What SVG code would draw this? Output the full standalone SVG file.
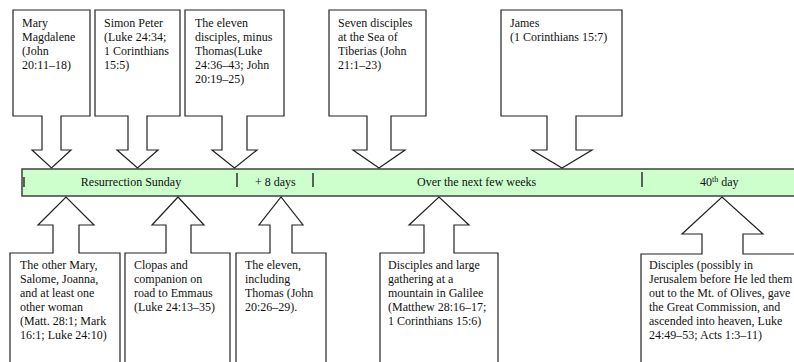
<svg xmlns="http://www.w3.org/2000/svg" width="794" height="362" viewBox="0 0 794 362">
<style>
.co{fill:#fff;stroke:#222;stroke-width:1.2;stroke-linejoin:miter}
.t{font-family:"Liberation Serif","Times New Roman",serif;font-size:12px;fill:#111}
.sep{stroke:#222;stroke-width:1.4}
</style>
<rect width="794" height="362" fill="#fff"/>
<g id="timeline">
<rect x="22" y="169" width="780" height="27" fill="#ccffcc" stroke="#404040" stroke-width="1.5"/>
<line class="sep" x1="24" y1="177" x2="24" y2="187"/>
<line class="sep" x1="237" y1="173" x2="237" y2="187"/>
<line class="sep" x1="313" y1="173" x2="313" y2="187"/>
<line class="sep" x1="642" y1="172" x2="642" y2="187"/>
<text class="t" x="131" y="186" text-anchor="middle">Resurrection Sunday</text>
<text class="t" x="255" y="186">+ 8 days</text>
<text class="t" x="417" y="186">Over the next few weeks</text>
<text class="t" x="700" y="186">40<tspan font-size="8" dy="-4">th</tspan><tspan dy="4"> day</tspan></text>
</g>
<g id="connectors"></g>
<g id="n-mary-magdalene">
<path class="co" d="M13,10 H90 V116 H61 V150 H71 L51.5,168 L32,150 H42 V116 H13 Z"/>
<text class="t" x="22" y="27">Mary</text>
<text class="t" x="22" y="41">Magdalene</text>
<text class="t" x="22" y="55">(John</text>
<text class="t" x="22" y="69">20:11–18)</text>
</g>
<g id="n-simon-peter">
<path class="co" d="M95,10 H180 V116 H147 V150 H158 L137.5,168 L117,150 H128 V116 H95 Z"/>
<text class="t" x="104" y="27">Simon Peter</text>
<text class="t" x="104" y="41">(Luke 24:34;</text>
<text class="t" x="104" y="55">1 Corinthians</text>
<text class="t" x="104" y="69">15:5)</text>
</g>
<g id="n-eleven-minus-thomas">
<path class="co" d="M185,10 H284 V116 H247 V150 H257 L234.5,168 L212,150 H222 V116 H185 Z"/>
<text class="t" x="195" y="27">The eleven</text>
<text class="t" x="195" y="41">disciples, minus</text>
<text class="t" x="195" y="55">Thomas(Luke</text>
<text class="t" x="195" y="69">24:36–43; John</text>
<text class="t" x="195" y="83">20:19–25)</text>
</g>
<g id="n-seven-disciples">
<path class="co" d="M329,10 H426 V116 H391 V150 H405 L379,168 L353,150 H367 V116 H329 Z"/>
<text class="t" x="338" y="27">Seven disciples</text>
<text class="t" x="338" y="41">at the Sea of</text>
<text class="t" x="338" y="55">Tiberias (John</text>
<text class="t" x="338" y="69">21:1–23)</text>
</g>
<g id="n-james">
<path class="co" d="M501,10 H622 V116 H576 V150 H592 L562,168 L532,150 H547 V116 H501 Z"/>
<text class="t" x="510" y="27">James</text>
<text class="t" x="510" y="41">(1 Corinthians 15:7)</text>
</g>
<g id="n-other-mary">
<path class="co" d="M10,370 V253 H53 V225 H38 L66,197 L94,225 H79 V253 H120 V370 Z"/>
<text class="t" x="20" y="269">The other Mary,</text>
<text class="t" x="20" y="283">Salome, Joanna,</text>
<text class="t" x="20" y="297">and at least one</text>
<text class="t" x="20" y="311">other woman</text>
<text class="t" x="20" y="325">(Matt. 28:1; Mark</text>
<text class="t" x="20" y="339">16:1; Luke 24:10)</text>
</g>
<g id="n-clopas">
<path class="co" d="M125,370 V253 H166 V225 H152 L178,197 L204,225 H191 V253 H230 V370 Z"/>
<text class="t" x="134" y="269">Clopas and</text>
<text class="t" x="134" y="283">companion on</text>
<text class="t" x="134" y="297">road to Emmaus</text>
<text class="t" x="134" y="311">(Luke 24:13–35)</text>
</g>
<g id="n-eleven-with-thomas">
<path class="co" d="M236,370 V253 H270 V225 H259 L281,197 L303,225 H292 V253 H326 V370 Z"/>
<text class="t" x="245" y="269">The eleven,</text>
<text class="t" x="245" y="283">including</text>
<text class="t" x="245" y="297">Thomas (John</text>
<text class="t" x="245" y="311">20:26–29).</text>
</g>
<g id="n-galilee">
<path class="co" d="M380,370 V253 H424 V225 H409 L439,197 L469,225 H454 V253 H498 V370 Z"/>
<text class="t" x="388" y="269">Disciples  and large</text>
<text class="t" x="388" y="283">gathering at a</text>
<text class="t" x="388" y="297">mountain in Galilee</text>
<text class="t" x="388" y="311">(Matthew 28:16–17;</text>
<text class="t" x="388" y="325">1 Corinthians 15:6)</text>
</g>
<g id="n-ascension">
<path class="co" d="M641,370 V254 H702 V234 H682 L722,197 L763,234 H743 V254 H800 V370 Z"/>
<text class="t" x="649" y="269">Disciples (possibly in</text>
<text class="t" x="649" y="283">Jerusalem before He led them</text>
<text class="t" x="649" y="297">out to the Mt. of Olives,  gave</text>
<text class="t" x="649" y="311">the Great Commission, and</text>
<text class="t" x="649" y="325">ascended into heaven, Luke</text>
<text class="t" x="649" y="339">24:49–53; Acts 1:3–11)</text>
</g>
</svg>
